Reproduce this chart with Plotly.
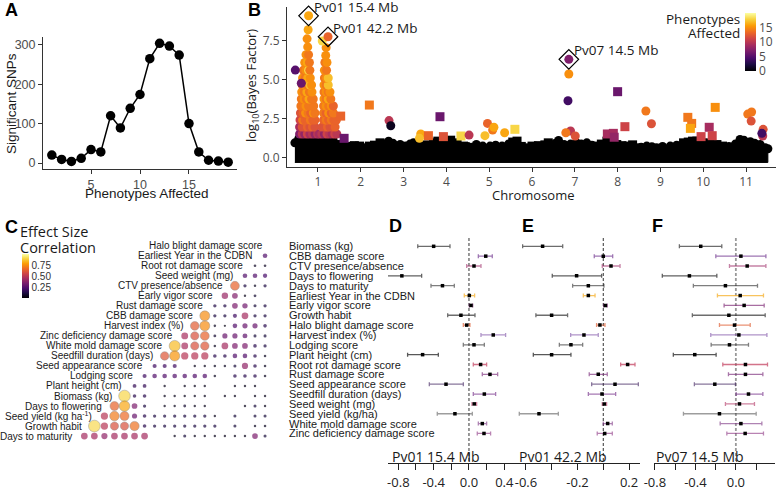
import plotly.graph_objects as go

W, H = 777, 487


def fx(p):
    return p / W


def fy(p):
    return 1 - p / H


# ---------------- Panel A ----------------
phenotypes_affected = list(range(1, 20))
significant_snps = [20, 9, 4, 12, 34, 28, 120, 89, 139, 174, 265, 304, 297, 274, 100, 28, 7, 5, 2]

# ---------------- Panel B ----------------
# upper envelope of the dense background (non-significant) SNP cloud
bg_pos = [0.46, 0.55, 0.65, 0.75, 0.85, 0.95, 1.05, 1.15, 1.25, 1.35, 1.43,
          1.55, 1.65, 1.75, 1.85, 1.97, 2.10, 2.20, 2.32, 2.45,
          2.55, 2.65, 2.75, 2.92, 3.05, 3.15, 3.23, 3.35, 3.45,
          3.55, 3.70, 3.80, 3.95, 4.10, 4.25, 4.40, 4.50,
          4.60, 4.70, 4.85, 5.02, 5.15, 5.30, 5.45,
          5.55, 5.65, 5.75, 5.88, 6.00, 6.15, 6.30, 6.38,
          6.55, 6.62, 6.75, 6.90, 7.04, 7.15, 7.28, 7.40,
          7.51, 7.62, 7.75, 7.88, 7.98, 8.10, 8.25, 8.35, 8.45,
          8.55, 8.68, 8.80, 8.91, 9.05, 9.23, 9.38,
          9.54, 9.65, 9.75, 9.85, 10.00, 10.15, 10.32, 10.45,
          10.60, 10.75, 10.86, 10.95, 11.10, 11.20, 11.33, 11.45, 11.51]
bg_top = [0.93, 1.20, 1.25, 1.25, 1.20, 1.20, 1.20, 1.25, 1.20, 1.15, 0.82,
          0.82, 0.65, 0.70, 0.75, 0.72, 0.61, 0.72, 0.78, 0.93,
          0.85, 1.04, 0.90, 0.82, 0.72, 0.85, 0.93, 0.82, 0.72,
          0.80, 0.93, 1.04, 0.82, 1.10, 0.93, 0.72, 0.70,
          0.65, 0.82, 0.72, 0.72, 0.78, 0.72, 0.85,
          0.98, 1.04, 0.70, 0.61, 0.72, 0.75, 0.80, 0.93,
          0.90, 1.08, 0.82, 0.85, 0.93, 0.85, 0.93, 0.78,
          0.72, 0.85, 1.04, 0.90, 0.82, 0.75, 0.72, 0.80, 0.61,
          0.65, 0.72, 0.68, 0.61, 0.70, 0.72, 0.78,
          0.93, 0.98, 1.04, 1.04, 0.93, 0.90, 0.82, 0.72,
          0.70, 0.85, 1.15, 1.10, 1.00, 0.90, 0.82, 0.61, 0.55]
bg_floor = -0.33

# significant SNPs: chromosome position, log10(BF), phenotypes affected
tower1_pos = [0.57, 0.63, 0.69, 0.75, 0.81, 0.87, 0.93, 0.99,
              0.57, 0.63, 0.69, 0.75, 0.81, 0.87, 0.93,
              0.58, 0.64, 0.70, 0.76, 0.82, 0.88, 0.93,
              0.59, 0.65, 0.71, 0.77, 0.83, 0.89, 0.93,
              0.60, 0.66, 0.72, 0.78, 0.84, 0.90,
              0.61, 0.67, 0.73, 0.79, 0.85, 0.89,
              0.62, 0.68, 0.74, 0.80, 0.86,
              0.63, 0.69, 0.75, 0.81, 0.85,
              0.64, 0.70, 0.76, 0.82,
              0.66, 0.72, 0.78, 0.81,
              0.69, 0.75, 0.80,
              0.72, 0.78,
              0.76, 0.745, 0.77, 0.78,
              0.47, 0.61]
tower1_bf = [1.50, 1.50, 1.50, 1.50, 1.50, 1.50, 1.50, 1.50,
             1.95, 1.95, 1.95, 1.95, 1.95, 1.95, 1.95,
             2.40, 2.40, 2.40, 2.40, 2.40, 2.40, 2.40,
             2.85, 2.85, 2.85, 2.85, 2.85, 2.85, 2.85,
             3.30, 3.30, 3.30, 3.30, 3.30, 3.30,
             3.75, 3.75, 3.75, 3.75, 3.75, 3.75,
             4.20, 4.20, 4.20, 4.20, 4.20,
             4.65, 4.65, 4.65, 4.65, 4.65,
             5.10, 5.10, 5.10, 5.10,
             5.60, 5.60, 5.60, 5.60,
             6.10, 6.10, 6.10,
             6.60, 6.60,
             7.10, 7.62, 8.20, 9.10,
             5.61, 4.76]
tower1_np = [7, 10, 8, 11, 9, 10, 8, 10,
             9, 12, 12, 13, 12, 13, 12,
             11, 14, 13, 13, 14, 13, 13,
             12, 13, 15, 14, 13, 15, 14,
             14, 14, 15, 14, 14, 14,
             14, 15, 14, 16, 14, 14,
             15, 14, 16, 14, 15,
             14, 15, 14, 17, 15,
             15, 14, 16, 15,
             14, 15, 18, 14,
             15, 16, 14,
             15, 14,
             15, 15, 16, 16,
             5, 6]

tower2_pos = [1.03, 1.09, 1.15, 1.21, 1.27, 1.33, 1.39, 1.44,
              1.10, 1.16, 1.22, 1.28, 1.34, 1.40,
              1.13, 1.19, 1.25, 1.31, 1.37, 1.43,
              1.13, 1.19, 1.25, 1.31, 1.36,
              1.13, 1.19, 1.25, 1.31, 1.36,
              1.14, 1.19, 1.24, 1.30,
              1.14, 1.19, 1.24, 1.28,
              1.14, 1.19, 1.24,
              1.15, 1.20, 1.24,
              1.15, 1.20,
              1.16, 1.21,
              1.18, 1.19, 1.10, 1.234]
tower2_bf = [1.50, 1.50, 1.50, 1.50, 1.50, 1.50, 1.50, 1.50,
             1.95, 1.95, 1.95, 1.95, 1.95, 1.95,
             2.40, 2.40, 2.40, 2.40, 2.40, 2.40,
             2.85, 2.85, 2.85, 2.85, 2.85,
             3.30, 3.30, 3.30, 3.30, 3.30,
             3.75, 3.75, 3.75, 3.75,
             4.20, 4.20, 4.20, 4.20,
             4.65, 4.65, 4.65,
             5.10, 5.10, 5.10,
             5.60, 5.60,
             6.10, 6.10,
             6.55, 7.05, 7.48, 7.75]
tower2_np = [9, 10, 8, 11, 10, 9, 11, 10,
             12, 12, 13, 12, 12, 13,
             13, 14, 13, 14, 13, 13,
             14, 13, 15, 13, 14,
             14, 15, 14, 15, 13,
             15, 14, 16, 14,
             14, 15, 14, 15,
             15, 14, 17,
             14, 15, 17,
             15, 14,
             14, 15,
             15, 15, 18, 13]

other_pos = [1.53, 2.20, 2.66, 2.70, 3.85, 3.40, 3.37, 3.58, 3.93, 4.34, 4.53, 1.61,
             4.96, 5.08, 5.11, 4.90, 5.36, 5.60,
             6.86, 6.86, 6.84, 6.90, 6.79, 7.01,
             8.00, 8.66, 8.79, 8.17, 7.76, 7.90, 7.92,
             9.64, 9.73, 9.70, 10.28, 10.14, 9.95, 10.21,
             11.04, 11.13, 11.12, 11.40, 11.39, 11.37]
other_bf = [2.65, 3.36, 2.36, 2.03, 2.61, 1.50, 1.22, 1.39, 1.33, 1.37, 1.43, 1.22,
            2.18, 1.75, 1.93, 1.39, 1.58, 1.80,
            6.30, 5.36, 3.64, 1.69, 1.58, 1.37,
            4.22, 2.98, 2.16, 1.97, 1.50, 1.54, 1.29,
            2.57, 2.18, 1.86, 3.21, 1.93, 1.33, 1.39,
            2.78, 2.91, 2.33, 1.80, 1.37, 1.54]
other_np = [13, 14, 10, 1, 6, 16, 17, 13, 12, 18, 10, 6,
            13, 14, 16, 17, 16, 18,
            7, 15, 4, 10, 14, 12,
            6, 14, 12, 11, 9, 9, 8,
            14, 14, 16, 15, 9, 11, 11,
            14, 14, 12, 12, 10, 4]

sig_pos = tower1_pos + tower2_pos + other_pos
sig_bf = tower1_bf + tower2_bf + other_bf
sig_np = tower1_np + tower2_np + other_np

peak_labels = ["Pv01 15.4 Mb", "Pv01 42.2 Mb", "Pv07 14.5 Mb"]
peak_pos = [0.78, 1.234, 6.86]
peak_bf = [9.10, 7.75, 6.30]
chrom_ticks = list(range(1, 12))

# ---------------- Panel C ----------------
c_traits = ["Halo blight damage score", "Earliest Year in the CDBN", "Root rot damage score",
            "Seed weight (mg)", "CTV presence/absence", "Early vigor score", "Rust damage score",
            "CBB damage score", "Harvest index (%)", "Zinc deficiency damage score",
            "White mold damage score", "Seedfill duration (days)", "Seed appearance score",
            "Lodging score", "Plant height (cm)", "Biomass (kg)", "Days to flowering",
            "Seed yield (kg ha<sup>-1</sup>)", "Growth habit", "Days to maturity"]
c_corr = [
    [],
    [0.25],
    [0.06, 0.06],
    [0.25, 0.25, 0.22],
    [0.66, 0.12, 0.05, 0.12],
    [0.42, 0.36, 0.04, 0.08, 0.0],
    [0.13, 0.13, 0.35, 0.32, 0.10, 0.12],
    [0.76, 0.12, 0.12, 0.20, 0.45, 0.12, 0.12],
    [0.64, 0.76, 0.05, 0.03, 0.25, 0.30, 0.30, 0.15],
    [0.46, 0.60, 0.66, 0.08, 0.30, 0.30, 0.28, 0.10, 0.10],
    [0.86, 0.46, 0.60, 0.62, 0.05, 0.45, 0.35, 0.35, 0.15, 0.12],
    [0.62, 0.78, 0.50, 0.50, 0.50, 0.15, 0.15, 0.25, 0.25, 0.15, 0.05],
    [0.20, 0.20, 0.20, 0.0, 0.04, 0.04, 0.05, 0.05, 0.10, 0.40, 0.15, 0.05],
    [0.20, 0.25, 0.25, 0.25, 0.25, 0.25, 0.25, 0.05, 0.0, 0.15, 0.15, 0.15, 0.05],
    [0.17, 0.17, 0.0, 0.04, 0.0, 0.04, 0.04, 0.04, 0.0, 0.0, 0.04, 0.04, 0.04, 0.0],
    [0.92, 0.15, 0.15, 0.0, 0.04, 0.04, 0.04, 0.04, 0.04, 0.0, 0.04, 0.04, 0.0, 0.04, 0.04],
    [0.66, 0.82, 0.35, 0.12, 0.0, 0.04, 0.04, 0.08, 0.04, 0.04, 0.0, 0.0, 0.0, 0.04, 0.10, 0.04],
    [0.50, 0.72, 0.68, 0.30, 0.15, 0.12, 0.12, 0.12, 0.12, 0.12, 0.12, 0.04, 0.0, 0.10, 0.0, 0.10, 0.10],
    [0.93, 0.50, 0.60, 0.60, 0.70, 0.15, 0.12, 0.12, 0.12, 0.12, 0.12, 0.12, 0.12, 0.0, 0.10, 0.0, 0.05, 0.05],
    [0.45, 0.45, 0.40, 0.45, 0.45, 0.45, 0.45, 0.0, 0.0, 0.04, 0.10, 0.04, 0.04, 0.04, 0.04, 0.04, 0.04, 0.35, 0.10],
]
c_ticks = [0.25, 0.50, 0.75]

# ---------------- Panels D-F ----------------
traits = ["Biomass (kg)", "CBB damage score", "CTV presence/absence", "Days to flowering",
          "Days to maturity", "Earliest Year in the CDBN", "Early vigor score", "Growth habit",
          "Halo blight damage score", "Harvest index (%)", "Lodging score", "Plant height (cm)",
          "Root rot damage score", "Rust damage score", "Seed appearance score",
          "Seedfill duration (days)", "Seed weight (mg)", "Seed yield (kg/ha)",
          "White mold damage score", "Zinc deficiency damage score"]
d_est = [-0.40, 0.19, 0.057, -0.76, -0.30, 0.004, 0.023, -0.091, -0.026, 0.275,
         0.057, -0.525, 0.132, 0.238, -0.26, 0.174, 0.06, -0.159, 0.151, 0.170]
d_lo = [-0.58, 0.106, -0.026, -0.99, -0.43, -0.053, 0.004, -0.241, -0.064, 0.136,
        -0.064, -0.695, 0.049, 0.151, -0.449, 0.049, 0.034, -0.359, 0.106, 0.094]
d_hi = [-0.215, 0.264, 0.136, -0.536, -0.166, 0.064, 0.042, 0.068, 0.011, 0.415,
        0.174, -0.347, 0.200, 0.325, -0.064, 0.302, 0.087, 0.038, 0.200, 0.245]
e_est = [-0.471, 0.0, 0.060, -0.207, -0.116, -0.116, 0.016, -0.401, -0.026, -0.150,
         -0.251, -0.401, 0.189, -0.039, 0.091, -0.010, 0.008, -0.499, 0.034, 0.011]
e_lo = [-0.626, -0.070, -0.008, -0.396, -0.238, -0.155, 0.003, -0.523, -0.052, -0.253,
        -0.341, -0.543, 0.135, -0.109, -0.090, -0.116, -0.008, -0.652, 0.0, -0.047]
e_hi = [-0.315, 0.073, 0.130, -0.013, 0.005, -0.064, 0.031, -0.277, 0.013, -0.039,
        -0.160, -0.251, 0.246, 0.031, 0.272, 0.096, 0.026, -0.349, 0.070, 0.070]
f_est = [-0.347, 0.050, 0.112, -0.459, -0.103, 0.043, 0.082, -0.069, -0.013, 0.030,
         -0.063, -0.406, 0.095, 0.095, -0.208, 0.125, 0.036, -0.162, 0.050, 0.092]
f_lo = [-0.558, -0.198, -0.063, -0.727, -0.420, -0.182, -0.116, -0.430, -0.162, -0.248,
        -0.244, -0.618, -0.129, -0.073, -0.410, 0.003, -0.103, -0.518, -0.155, -0.089]
f_hi = [-0.139, 0.297, 0.297, -0.188, 0.214, 0.273, 0.280, 0.290, 0.142, 0.307,
        0.125, -0.195, 0.313, 0.267, -0.004, 0.267, 0.184, 0.201, 0.257, 0.273]
forest_titles = ["Pv01 15.4 Mb", "Pv01 42.2 Mb", "Pv07 14.5 Mb"]

# styles
trait_colors = ["rgba(30,30,30,0.65)", "rgba(106,44,138,0.65)", "rgba(160,48,106,0.6)",
                "rgba(30,30,30,0.7)", "rgba(40,40,40,0.6)", "rgba(245,175,40,0.75)",
                "rgba(122,32,112,0.65)", "rgba(30,30,30,0.65)", "rgba(224,100,58,0.7)",
                "rgba(110,61,154,0.55)", "rgba(40,40,40,0.6)", "rgba(17,17,17,0.7)",
                "rgba(192,56,88,0.7)", "rgba(122,42,122,0.65)", "rgba(58,26,90,0.6)",
                "rgba(106,32,128,0.6)", "rgba(176,48,96,0.6)", "rgba(60,60,60,0.5)",
                "rgba(122,48,128,0.6)", "rgba(138,48,128,0.6)"]

SANS = "Liberation Sans"
OPEN = "Open Sans"
TICK_GRAY = "#4d4d4d"
INK = "#1a1a1a"

fig = go.Figure()

# ---- A
fig.add_trace(go.Scatter(x=phenotypes_affected, y=significant_snps, mode="lines+markers",
                         line=dict(color="black", width=1.5),
                         marker=dict(color="black", size=9.5),
                         xaxis="x", yaxis="y", showlegend=False, cliponaxis=False))


# ---- B
def chrom_symbol(p, even_sym, odd_sym):
    c = min(11, max(1, int(p + 0.5)))
    return even_sym if c % 2 == 0 else odd_sym


fig.add_trace(go.Scatter(x=bg_pos + [bg_pos[-1], bg_pos[0]],
                         y=bg_top + [bg_floor, bg_floor],
                         mode="lines", fill="toself", fillcolor="black",
                         line=dict(color="black", width=1),
                         xaxis="x2", yaxis="y2", showlegend=False, hoverinfo="skip"))
fig.add_trace(go.Scatter(x=bg_pos, y=bg_top, mode="markers",
                         marker=dict(color="black", size=9,
                                     symbol=[chrom_symbol(p, "square", "circle") for p in bg_pos]),
                         xaxis="x2", yaxis="y2", showlegend=False))
fig.add_trace(go.Scatter(x=sig_pos, y=sig_bf, mode="markers",
                         marker=dict(color=sig_np, coloraxis="coloraxis", size=9,
                                     symbol=[chrom_symbol(p, "square", "circle") for p in sig_pos],
                                     line=dict(width=0)),
                         xaxis="x2", yaxis="y2", showlegend=False, cliponaxis=False))
fig.add_trace(go.Scatter(x=peak_pos, y=peak_bf, mode="markers",
                         marker=dict(color="black", size=15, symbol="diamond-open",
                                     line=dict(width=1.2, color="black")),
                         xaxis="x2", yaxis="y2", showlegend=False, cliponaxis=False))

# ---- C
cx, cy, cv = [], [], []
for i, row in enumerate(c_corr):
    start = 20 - i
    for k, v in enumerate(row):
        if v > 0:
            cx.append(start + k)
            cy.append(i)
            cv.append(v)
fig.add_trace(go.Scatter(x=cx, y=cy, mode="markers",
                         marker=dict(color=cv, coloraxis="coloraxis2",
                                     size=[2 + 10.5 * v for v in cv],
                                     line=dict(width=[0.6 if v > 0.5 else 0 for v in cv],
                                               color="rgba(90,90,90,0.7)")),
                         xaxis="x3", yaxis="y3", showlegend=False, cliponaxis=False))

# ---- D, E, F
panels = [(d_est, d_lo, d_hi, "x4", "y4"), (e_est, e_lo, e_hi, "x5", "y5"),
          (f_est, f_lo, f_hi, "x6", "y6")]
rows = list(range(len(traits)))
for pi, (est, lo, hi, xa, ya) in enumerate(panels):
    zc = "#999999" if pi == 2 else "#333333"
    zw = 1.8 if pi == 2 else 1
    fig.add_trace(go.Scatter(x=[0, 0], y=[-0.844, 22.0], mode="lines",
                             line=dict(color=zc, width=zw, dash="3px,2px"),
                             xaxis=xa, yaxis=ya, showlegend=False, hoverinfo="skip"))
    for k in rows:
        fig.add_trace(go.Scatter(
            x=[est[k]], y=[k], mode="markers",
            marker=dict(color="black", size=3.5, symbol="square"),
            error_x=dict(type="data", symmetric=False, array=[hi[k] - est[k]],
                         arrayminus=[est[k] - lo[k]], color=trait_colors[k],
                         thickness=1.3, width=2),
            xaxis=xa, yaxis=ya, showlegend=False))

# ---- axes
line_style = dict(showline=True, linecolor="#333333", linewidth=1, ticks="outside",
                  ticklen=4, tickcolor="#333333", showgrid=False, zeroline=False)

layout = dict(
    width=W, height=H, margin=dict(l=0, r=0, t=0, b=0, pad=0, autoexpand=False),
    paper_bgcolor="white", plot_bgcolor="white",
    font=dict(family=SANS, color=INK),
    xaxis=dict(domain=[fx(43), fx(237)], range=[0.1, 19.9], tickvals=[5, 10, 15],
               anchor="y", tickfont=dict(size=12.5, color=TICK_GRAY, family=SANS), **line_style),
    yaxis=dict(domain=[fy(169), fy(37)], range=[-15.25, 320], tickvals=[0, 100, 200, 300],
               anchor="x", tickfont=dict(size=12.5, color=TICK_GRAY, family=SANS), **line_style),
    xaxis2=dict(domain=[fx(287), fx(776)], range=[0.276, 11.70], tickvals=chrom_ticks,
                anchor="y2", tickfont=dict(size=12, color=TICK_GRAY, family=OPEN), **line_style),
    yaxis2=dict(domain=[fy(167), fy(7)], range=[-0.624, 9.666], tickvals=[0, 2.5, 5, 7.5],
                ticktext=["0.0", "2.5", "5.0", "7.5"], anchor="x2",
                tickfont=dict(size=12, color=TICK_GRAY, family=OPEN), **line_style),
    xaxis3=dict(domain=[0, fx(280)], range=[-7.4, 20.49], visible=False, anchor="y3"),
    yaxis3=dict(domain=[fy(447), fy(235)], range=[20.09, -1.07], visible=False, anchor="x3"),
    coloraxis=dict(colorscale="Inferno", cmin=0, cmax=20,
                   colorbar=dict(x=fx(745), xanchor="left", y=fy(42), yanchor="middle",
                                 len=58 / H, lenmode="fraction", thickness=11, xpad=0, ypad=0,
                                 tickvals=[0, 5, 10, 15], ticks="", outlinewidth=0,
                                 tickfont=dict(size=12, color=TICK_GRAY, family=OPEN))),
    coloraxis2=dict(colorscale="Inferno", cmin=0, cmax=1.02,
                    colorbar=dict(x=fx(22), xanchor="left", y=fy(276), yanchor="middle",
                                  len=44 / H, lenmode="fraction", thickness=7, xpad=0, ypad=0,
                                  tickvals=c_ticks, ticktext=["0.25", "0.50", "0.75"],
                                  ticks="", outlinewidth=0,
                                  tickfont=dict(size=10, color="#333333", family=SANS))),
)

forest_x = [
    ("xaxis4", "yaxis4", [fx(388), fx(517)], [-0.917, 0.544],
     [-0.8, -0.6, -0.4, -0.2, 0, 0.2, 0.4], ["-0.8", " ", "-0.4", " ", "0.0", " ", "0.4"], "y4", "x4"),
    ("xaxis5", "yaxis5", [fx(516.7), fx(640)], [-0.672, 0.285],
     [-0.6, -0.4, -0.2, 0, 0.2], ["-0.6", " ", "-0.2", " ", "0.2"], "y5", "x5"),
    ("xaxis6", "yaxis6", [fx(654), fx(775)], [-0.809, 0.387],
     [-0.8, -0.6, -0.4, -0.2, 0, 0.2], ["-0.8", " ", "-0.4", " ", "0.0", " "], "y6", "x6"),
]
for xk, yk, dom, rng, tv, tt, ya, xa in forest_x:
    layout[xk] = dict(domain=dom, range=rng, tickvals=tv, ticktext=tt, anchor=ya,
                      showline=True, linecolor="#222222", linewidth=1.2, ticks="outside",
                      ticklen=6, tickcolor="#222222", tickwidth=1.2, showgrid=False,
                      zeroline=False, ticklabelstandoff=1,
                      tickfont=dict(size=13, color="#222222", family=OPEN))
    layout[yk] = dict(domain=[fy(463), fy(238)], range=[22.0, -0.844], visible=False, anchor=xa)

ann = []


def txt(text, x, y, size, family=SANS, color=INK, xanchor="left", yanchor="middle",
        angle=0, align="left", xref="paper", yref="paper"):
    ann.append(dict(text=text, x=x, y=y, xref=xref, yref=yref, showarrow=False,
                    xanchor=xanchor, yanchor=yanchor, textangle=angle, align=align,
                    font=dict(size=size, family=family, color=color)))


# panel letters
for letter, px_, py_ in [("A", 3, 10), ("B", 246, 10), ("C", 3, 227),
                         ("D", 387, 226), ("E", 520, 226), ("F", 650, 226)]:
    txt("<b>%s</b>" % letter, fx(px_), fy(py_), 18, family=SANS, color="black")

# axis titles
txt("Phenotypes Affected", fx(147), fy(193), 13.5, xanchor="center")
txt("Significant SNPs", fx(11), fy(104), 13.5, xanchor="center", angle=-90)
txt("log<sub>10</sub>(Bayes Factor)", fx(252), fy(86), 13, family=OPEN, xanchor="center", angle=-90)
txt("Chromosome", fx(533), fy(195), 13, family=OPEN, xanchor="center")
txt("Phenotypes", fx(742), fy(19), 13.5, family=OPEN, xanchor="right")
txt("Affected", fx(742), fy(33), 13.5, family=OPEN, xanchor="right")
txt("Effect Size", fx(18), fy(232), 14.5, family=OPEN)
txt("Correlation", fx(18), fy(247), 14.5, family=OPEN)

# peak labels
for lab, px_, py_ in zip(peak_labels, peak_pos, peak_bf):
    ann.append(dict(text=lab, x=px_, y=py_, xref="x2", yref="y2", showarrow=False,
                    xanchor="left", yanchor="middle", xshift=3, yshift=9,
                    font=dict(size=13.5, family=OPEN, color=INK)))

# C labels on the diagonal
for i, t in enumerate(c_traits):
    ann.append(dict(text=t, x=19 - i, y=i, xref="x3", yref="y3", showarrow=False,
                    xanchor="right", yanchor="middle",
                    font=dict(size=10, family=SANS, color=INK)))

# D trait labels
for k, t in enumerate(traits):
    ann.append(dict(text=t, x=fx(287), y=k, xref="paper", yref="y4", showarrow=False,
                    xanchor="left", yanchor="middle",
                    font=dict(size=11, family=SANS, color=INK)))

# forest strip labels
for t, px_ in zip(forest_titles, [390, 517, 654]):
    txt(t, fx(px_), fy(456), 14, family=OPEN)

layout["annotations"] = ann
fig.update_layout(**layout)
fig.write_html("out.html", config={"displayModeBar": False},
               post_script="document.body.style.margin='0';"
                           "document.body.style.overflow='hidden';")
